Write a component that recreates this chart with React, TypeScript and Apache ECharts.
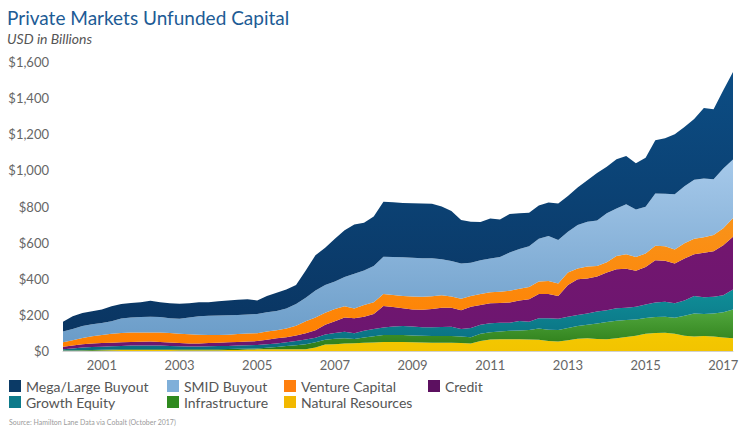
import React, { useEffect, useRef } from "react";
import * as echarts from "echarts";

// Quarterly points 2000 Q1 .. 2017 Q2 (70 quarters)
const years: number[] = [];
for (let y = 2000; y <= 2017; y++) years.push(y);
const categories: string[] = [];
years.forEach((y) => {
  for (let q = 1; q <= 4; q++) {
    if (y === 2017 && q > 2) break;
    categories.push(`${y} Q${q}`);
  }
});

const naturalResources = [
  1, 1, 1, 2, 3, 4, 5, 6, 6, 6, 6, 5, 4, 4, 4, 4, 4, 5, 6, 8,
  9, 9, 10, 10, 10, 10, 20, 36, 38, 41, 43, 45, 47, 50, 50, 50, 49, 47, 46, 46,
  46, 44, 42, 55, 63, 65, 65, 65, 64, 62, 56, 52, 60, 68, 70, 66, 65, 70, 78, 85,
  95, 100, 101, 96, 85, 80, 83, 80, 75, 70,
];
const infrastructure = [
  2, 2, 3, 3, 4, 4, 4, 4, 4, 4, 4, 4, 5, 5, 5, 5, 6, 6, 6, 5,
  5, 9, 12, 17, 22, 28, 28, 26, 30, 29, 23, 30, 35, 38, 38, 38, 37, 37, 37, 37,
  37, 36, 34, 41, 41, 43, 47, 49, 52, 62, 62, 64, 68, 70, 75, 86, 95, 98, 94, 90,
  88, 88, 89, 88, 110, 128, 122, 128, 140, 160,
];
const growthEquity = [
  7, 11, 16, 17, 17, 18, 19, 20, 21, 21, 20, 19, 17, 16, 16, 17, 17, 17, 18, 19,
  19, 19, 20, 21, 24, 26, 26, 30, 32, 36, 32, 37, 40, 42, 47, 50, 50, 48, 48, 50,
  51, 42, 52, 50, 50, 49, 45, 52, 46, 58, 64, 62, 62, 61, 63, 66, 66, 68, 68, 70,
  75, 80, 83, 80, 85, 96, 92, 92, 93, 110,
];
const credit = [
  14, 16, 18, 20, 20, 20, 20, 20, 20, 21, 20, 19, 18, 17, 17, 18, 19, 20, 20, 20,
  22, 25, 28, 28, 30, 34, 41, 53, 65, 80, 83, 78, 83, 119, 109, 99, 94, 96, 101, 107,
  106, 103, 117, 109, 110, 109, 111, 114, 124, 133, 133, 127, 175, 198, 194, 194, 209, 216, 215, 199,
  207, 235, 227, 221, 232, 232, 247, 252, 278, 292,
];
const ventureCapital = [
  24, 30, 34, 40, 44, 49, 52, 52, 52, 51, 52, 53, 52, 51, 48, 44, 42, 42, 44, 45,
  43, 46, 45, 49, 54, 67, 70, 67, 67, 62, 54, 65, 65, 66, 66, 68, 72, 72, 71, 68,
  62, 64, 60, 60, 61, 62, 65, 65, 69, 70, 73, 69, 70, 60, 66, 58, 57, 74, 81, 76,
  75, 80, 80, 77, 84, 86, 86, 90, 94, 105,
];
const smidBuyout = [
  60, 62, 66, 66, 67, 70, 80, 83, 85, 87, 86, 82, 82, 92, 102, 107, 109, 108, 105, 105,
  107, 107, 107, 110, 120, 130, 150, 153, 153, 162, 193, 190, 200, 207, 211, 214, 214, 214, 210, 200,
  196, 196, 183, 187, 187, 192, 212, 220, 225, 237, 248, 240, 225, 240, 247, 252, 270, 263, 277, 264,
  258, 289, 290, 306, 316, 326, 325, 309, 330, 323,
];
const megaLargeBuyout = [
  54, 70, 72, 72, 75, 83, 80, 81, 82, 88, 82, 82, 84, 80, 78, 75, 78, 82, 85, 84,
  75, 90, 100, 105, 105, 150, 195, 207, 237, 258, 272, 265, 275, 304, 303, 301, 302, 303, 302, 292,
  277, 240, 227, 212, 221, 208, 213, 197, 185, 183, 186, 203, 198, 208, 230, 263, 258, 273, 267, 256,
  272, 295, 308, 332, 328, 337, 391, 387, 434, 485,
];

const yTicks = [0, 200, 400, 600, 800, 1000, 1200, 1400, 1600];

const vGrad = (top: string, bottom: string) => ({
  type: "linear",
  x: 0,
  y: 0,
  x2: 0,
  y2: 1,
  colorStops: [
    { offset: 0, color: top },
    { offset: 1, color: bottom },
  ],
});

const seriesDefs = [
  { name: "Natural Resources", data: naturalResources, legend: "#f2b800", fill: vGrad("#f4c800", "#f2c400") },
  { name: "Infrastructure", data: infrastructure, legend: "#2f8a1f", fill: vGrad("#52a83e", "#2a7a16") },
  { name: "Growth Equity", data: growthEquity, legend: "#0d7a8a", fill: vGrad("#0f8f98", "#0a6c80") },
  { name: "Credit", data: credit, legend: "#5c1060", fill: vGrad("#73166f", "#6c1670") },
  { name: "Venture Capital", data: ventureCapital, legend: "#ff7f0e", fill: vGrad("#f9931a", "#ff8000") },
  { name: "SMID Buyout", data: smidBuyout, legend: "#7fafd9", fill: vGrad("#a6c9ea", "#6a9cc8") },
  { name: "Mega/Large Buyout", data: megaLargeBuyout, legend: "#0b3a66", fill: vGrad("#0c4d84", "#0a3562") },
];

const legendPos: Record<string, [number, number]> = {
  "Mega/Large Buyout": [9, 379],
  "SMID Buyout": [167, 379],
  "Venture Capital": [284, 379],
  Credit: [428, 379],
  "Growth Equity": [9, 395],
  Infrastructure: [167, 395],
  "Natural Resources": [284, 395],
};

const FONT = "Lato, 'Open Sans', sans-serif";

export default function App() {
  const ref = useRef<HTMLDivElement>(null);
  useEffect(() => {
    if (!ref.current) return;
    const chart = echarts.init(ref.current, undefined, { renderer: "svg" });
    const option: any = {
      animation: false,
      backgroundColor: "#ffffff",
      textStyle: { fontFamily: FONT },
      title: {
        text: "Private Markets Unfunded Capital",
        subtext: "USD in Billions",
        left: 7,
        top: 8,
        padding: 0,
        itemGap: 4,
        textStyle: { fontFamily: FONT, fontSize: 19, fontWeight: "normal", color: "#1d5b95" },
        subtextStyle: { fontFamily: FONT, fontSize: 14, fontStyle: "italic", color: "#555555" },
      },
      legend: seriesDefs.map((s) => ({
        data: [{ name: s.name, itemStyle: { color: s.legend } }],
        left: legendPos[s.name][0],
        top: legendPos[s.name][1],
        padding: 0,
        icon: "rect",
        itemWidth: 12,
        itemHeight: 12,
        itemGap: 0,
        selectedMode: false,
        textStyle: { fontFamily: FONT, fontSize: 14, color: "#555555" },
      })),
      grid: { left: 63, right: 12, top: 62, bottom: 85, containLabel: false },
      xAxis: {
        type: "category",
        data: categories,
        boundaryGap: false,
        axisLine: { show: true, lineStyle: { color: "#d0d0d0", width: 1 } },
        axisTick: { show: false },
        splitLine: { show: false },
        axisLabel: {
          interval: (idx: number) => idx % 8 === 4,
          formatter: (v: string) => v.slice(0, 4),
          color: "#666666",
          fontSize: 13,
          fontFamily: FONT,
          margin: 7,
        },
      },
      yAxis: {
        type: "value",
        min: yTicks[0],
        max: yTicks[yTicks.length - 1],
        interval: 200,
        axisLine: { show: false },
        axisTick: { show: false },
        splitLine: { show: false },
        axisLabel: {
          formatter: (v: number) => "$" + v.toLocaleString("en-US"),
          color: "#666666",
          fontSize: 13,
          fontFamily: FONT,
          margin: 14,
        },
      },
      series: seriesDefs.map((s) => ({
        name: s.name,
        type: "line",
        stack: "total",
        data: s.data,
        showSymbol: false,
        symbol: "none",
        smooth: false,
        lineStyle: { width: 0, opacity: 0 },
        itemStyle: { color: s.legend },
        areaStyle: { color: s.fill, opacity: 1 },
      })),
      graphic: [
        {
          type: "text",
          left: 9,
          top: 418,
          style: {
            text: "Source: Hamilton Lane Data via Cobalt (October 2017)",
            fontSize: 7,
            fontFamily: FONT,
            fill: "#9a9a9a",
          },
        },
      ],
    };
    chart.setOption(option);
    return () => chart.dispose();
  }, []);
  return <div ref={ref} style={{ width: 745, height: 436, position: "absolute", left: 0, top: 0 }} />;
}
